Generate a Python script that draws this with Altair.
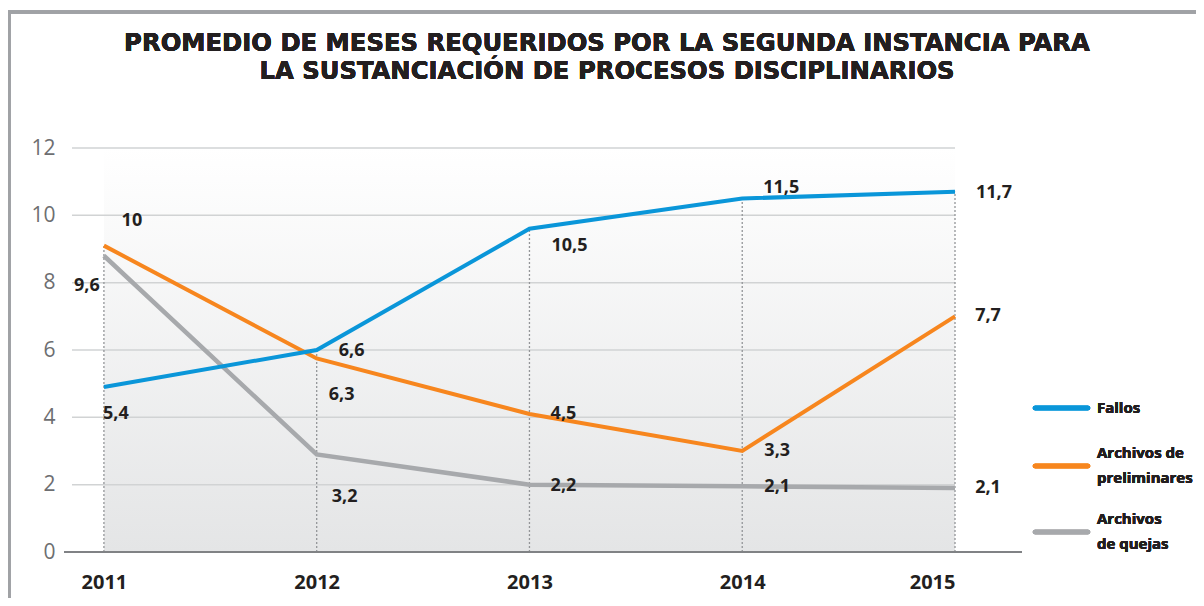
import altair as alt
import pandas as pd

# ---- data ----
years = [2011, 2012, 2013, 2014, 2015]
series_names = ["Fallos", "Archivos de preliminares", "Archivos de quejas"]
fallos = [4.9, 6.0, 9.6, 10.5, 10.7]
preliminares = [9.1, 5.75, 4.1, 3.0, 7.0]
quejas = [8.8, 2.9, 2.0, 1.95, 1.9]
fallos_labels = ["5,4", "6,6", "10,5", "11,5", "11,7"]
prelim_labels = ["10", "6,3", "4,5", "3,3", "7,7"]
quejas_labels = ["9,6", "3,2", "2,2", "2,1", "2,1"]
y_ticks = [0, 2, 4, 6, 8, 10, 12]
title_lines = ["PROMEDIO DE MESES REQUERIDOS POR LA SEGUNDA INSTANCIA PARA",
               "LA SUSTANCIACIÓN DE PROCESOS DISCIPLINARIOS"]
legend_texts = [["Fallos"], ["Archivos de", "preliminares"], ["Archivos", "de quejas"]]

# ---- styles / layout ----
colors = ["#0a96d9", "#f7861e", "#a7a9ac"]
widths = [4, 4, 4.5]
fallos_off = [(12, 27), (35, 1), (40, 17), (39, -11), (39, 1)]
prelim_off = [(28, -25), (25, 37), (34, 0), (35, 0), (33, 0)]
quejas_off = [(-17, 30), (28, 43), (34, 1), (35, 1), (33, 0)]
W, H = 883, 404
TXT = "#231f20"

xs = alt.Scale(domain=[2010.85, 2015], nice=False, zero=False)
ys = alt.Scale(domain=[0, 12], nice=False, zero=True)
x_axis = alt.Axis(values=years, format="d", labelFontSize=20, labelFontWeight="bold",
                  labelColor=TXT, labelFont="Open Sans", domain=False, ticks=False,
                  grid=False, labelPadding=20, title=None)
y_axis = alt.Axis(values=y_ticks, labelFontSize=21, labelColor="#6d6e71",
                  labelFont="Open Sans", domain=False, ticks=False, grid=False,
                  labelPadding=17, title=None)

def X(f="year"):
    return alt.X(f"{f}:Q", scale=xs, axis=x_axis)

def Y(f="v"):
    return alt.Y(f"{f}:Q", scale=ys, axis=y_axis)

layers = []

# gradient background
bg = pd.DataFrame({"year": [years[0]], "year2": [years[-1]], "v": [y_ticks[0]], "v2": [y_ticks[-1]]})
layers.append(alt.Chart(bg).mark_rect(
    fill=alt.Gradient(gradient="linear",
                      stops=[alt.GradientStop(color="#ffffff", offset=0),
                             alt.GradientStop(color="#e4e5e6", offset=1)],
                      x1=0, x2=0, y1=0, y2=1)
).encode(x=X(), x2="year2:Q", y=Y(), y2="v2:Q"))

# gridlines
grid_df = pd.DataFrame({"v": y_ticks[1:]})
layers.append(alt.Chart(grid_df).mark_rule(color="#d1d3d4", strokeWidth=1.5).encode(
    x=alt.value(0), x2=alt.value(W), y=Y()))

# dotted verticals
tops = [max(a, b, c) for a, b, c in zip(fallos, preliminares, quejas)]
vd = pd.DataFrame({"year": years, "v": [0] * len(years), "v2": tops})
layers.append(alt.Chart(vd).mark_rule(color="#939598", strokeWidth=1.3, strokeDash=[2, 2]).encode(
    x=X(), y=Y(), y2="v2:Q"))

# baseline
layers.append(alt.Chart(grid_df).mark_rule(color="#808285", strokeWidth=2).encode(
    x=alt.value(-8), x2=alt.value(950), y=alt.datum(0, scale=ys, axis=y_axis)))

# lines
all_vals = [fallos, preliminares, quejas]
for idx in [2, 1, 0]:
    d = pd.DataFrame({"year": years, "v": all_vals[idx]})
    layers.append(alt.Chart(d).mark_line(color=colors[idx], strokeWidth=widths[idx],
                                         strokeJoin="miter").encode(x=X(), y=Y()))

# value labels
for vals, labs, offs in [(fallos, fallos_labels, fallos_off),
                         (preliminares, prelim_labels, prelim_off),
                         (quejas, quejas_labels, quejas_off)]:
    for yr, v, lab, (dx, dy) in zip(years, vals, labs, offs):
        d = pd.DataFrame({"year": [yr], "v": [v], "t": [lab]})
        layers.append(alt.Chart(d).mark_text(
            dx=dx, dy=dy, fontSize=18, fontWeight="bold", font="Open Sans", color=TXT,
            align="center", baseline="middle").encode(x=X(), y=Y(), text="t:N"))

# legend
leg_y = [260, 318, 384]
leg_ty = [260, 305, 371]
for i in range(3):
    layers.append(alt.Chart(grid_df).mark_rule(color=colors[i], strokeWidth=4.5, strokeCap="round").encode(
        x=alt.value(963), x2=alt.value(1016), y=alt.value(leg_y[i])))
    layers.append(alt.Chart(grid_df).mark_text(
        text=legend_texts[i], align="left", baseline="middle", fontSize=15, fontWeight="bold",
        font="Open Sans", color=TXT, lineHeight=25).encode(
        x=alt.value(1025), y=alt.value(leg_ty[i])))

# title
layers.append(alt.Chart(grid_df).mark_text(
    text=title_lines, align="center", baseline="middle", fontSize=24.3, fontWeight="bold",
    font="DejaVu Sans", color=TXT, lineHeight=28).encode(
    x=alt.value(535), y=alt.value(-104)))

# frame
layers.append(alt.Chart(grid_df).mark_rule(color="#a0a2a5", strokeWidth=3).encode(
    x=alt.value(-63), y=alt.value(-136), y2=alt.value(460)))
layers.append(alt.Chart(grid_df).mark_rule(color="#a0a2a5", strokeWidth=3).encode(
    x=alt.value(-64), x2=alt.value(1140), y=alt.value(-136)))

chart = alt.layer(*layers).properties(
    width=W, height=H,
    padding={"left": 64, "top": 140, "right": 241, "bottom": 46},
    autosize=alt.AutoSizeParams(type="none"),
).configure_view(stroke=None)

chart.save("out.html", embed_options={"renderer": "svg", "actions": False})
